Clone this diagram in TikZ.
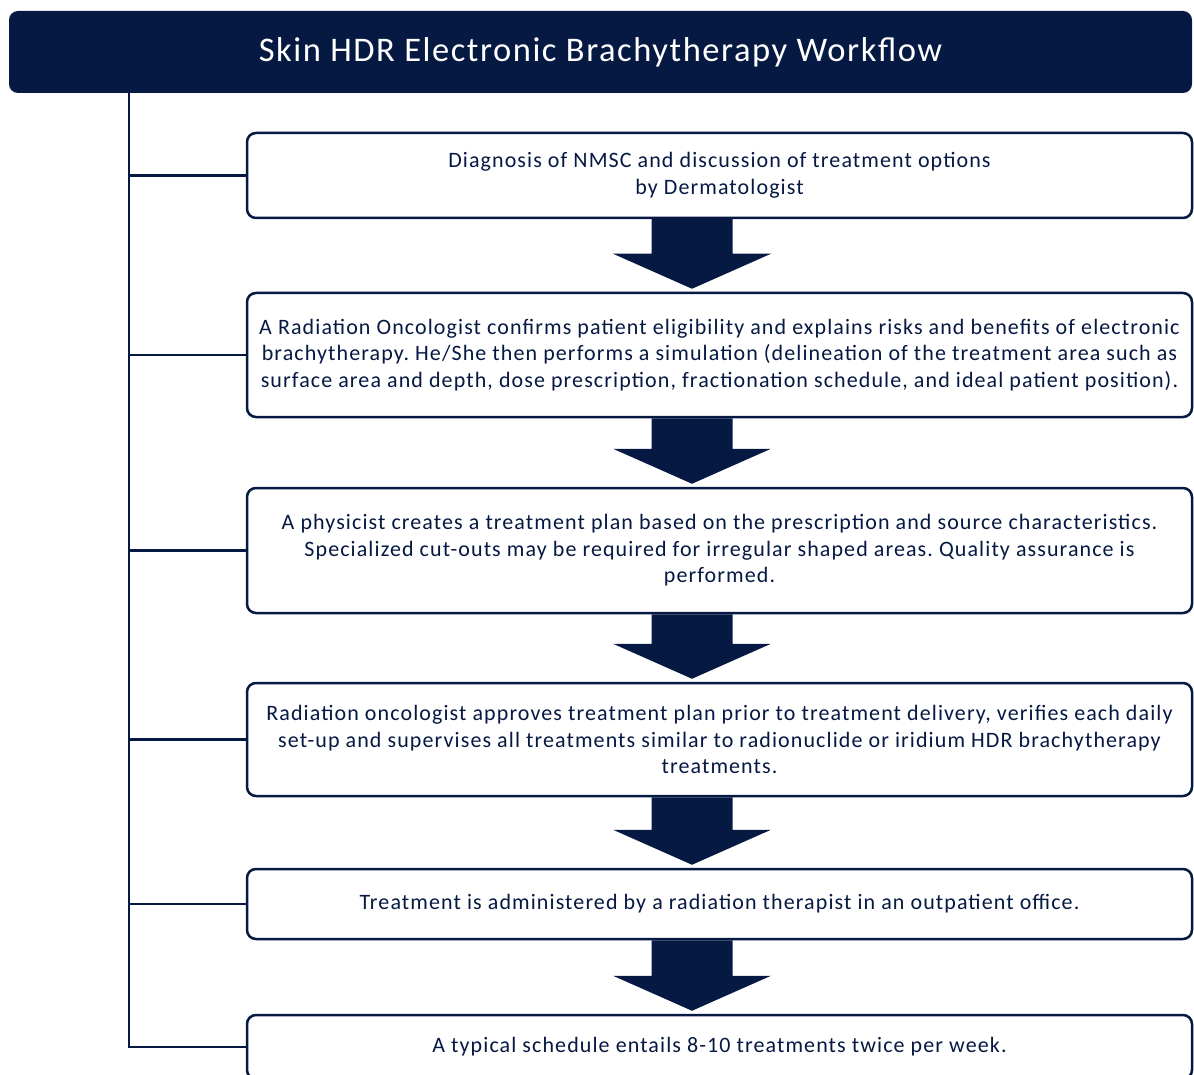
\documentclass[tikz,border=0pt]{standalone}
\usepackage{fontspec}
\setmainfont{Carlito}
\newfontfamily\boxfont[LetterSpace=5]{Carlito}
\newfontfamily\titlefont[LetterSpace=4.5]{Carlito}
\usetikzlibrary{calc}
\definecolor{navy}{HTML}{061943}
\frenchspacing
\tikzset{
  x=1pt, y=-1pt,
  flowbox/.style={draw=navy, line width=2.5pt, rounded corners=9pt, fill=white,
    minimum width=945pt, align=center, text=navy, inner sep=4pt,
    font=\boxfont\fontsize{22}{26.5}\selectfont},
  branch/.style={draw=navy, line width=2.5pt},
}
\newcommand\flowarrow[2]{%
  \fill[navy] ($(ax |- #1.south)+(-40.5,0)$) -- ($(ax |- #1.south)+(40.5,0)$)
    -- ($(ax |- #2.north)+(40.5,-38)$) -- ($(ax |- #2.north)+(79,-38)$)
    -- ($(ax |- #2.north)+(0,-3)$) -- ($(ax |- #2.north)+(-79,-38)$)
    -- ($(ax |- #2.north)+(-40.5,-38)$) -- cycle;}
\begin{document}
\begin{tikzpicture}
\clip (0,0) rectangle (1194,1075);
\fill[white] (0,0) rectangle (1194,1075);
\node[fill=navy, rounded corners=9pt, minimum width=1183pt, minimum height=82pt,
  text=white, font=\titlefont\fontsize{34.5}{38}\selectfont] (title) at (600.5,52) {Skin HDR Electronic Brachytherapy Workflow};
\coordinate (sp) at (129,93);
\coordinate (ax) at (692,0);
\node[flowbox, minimum height=85pt] (b1) at (719.5,175.5) {Diagnosis of NMSC and discussion of treatment options\\by Dermatologist};
\node[flowbox, minimum height=124pt] (b2) at (719.5,355) {A Radiation Oncologist confirms patient eligibility and explains risks and benefits of electronic\\brachytherapy. He/She then performs a simulation (delineation of the treatment area such as\\surface area and depth, dose prescription, fractionation schedule, and ideal patient position).};
\node[flowbox, minimum height=125pt] (b3) at (719.5,550.5) {A physicist creates a treatment plan based on the prescription and source characteristics.\\Specialized cut-outs may be required for irregular shaped areas. Quality assurance is\\performed.};
\node[flowbox, minimum height=113pt] (b4) at (719.5,739.5) {Radiation oncologist approves treatment plan prior to treatment delivery, verifies each daily\\set-up and supervises all treatments similar to radionuclide or iridium HDR brachytherapy\\treatments.};
\node[flowbox, minimum height=70pt] (b5) at (719.5,904) {Treatment is administered by a radiation therapist in an outpatient office.};
\node[flowbox, minimum height=64pt] (b6) at (719.5,1047) {A typical schedule entails 8-10 treatments twice per week.};
\draw[branch] (sp) |- (b6.west);
\foreach \b in {b1,b2,b3,b4,b5} \draw[branch] (sp |- \b.west) -- (\b.west);
\flowarrow{b1}{b2}
\flowarrow{b2}{b3}
\flowarrow{b3}{b4}
\flowarrow{b4}{b5}
\flowarrow{b5}{b6}
\end{tikzpicture}
\end{document}
